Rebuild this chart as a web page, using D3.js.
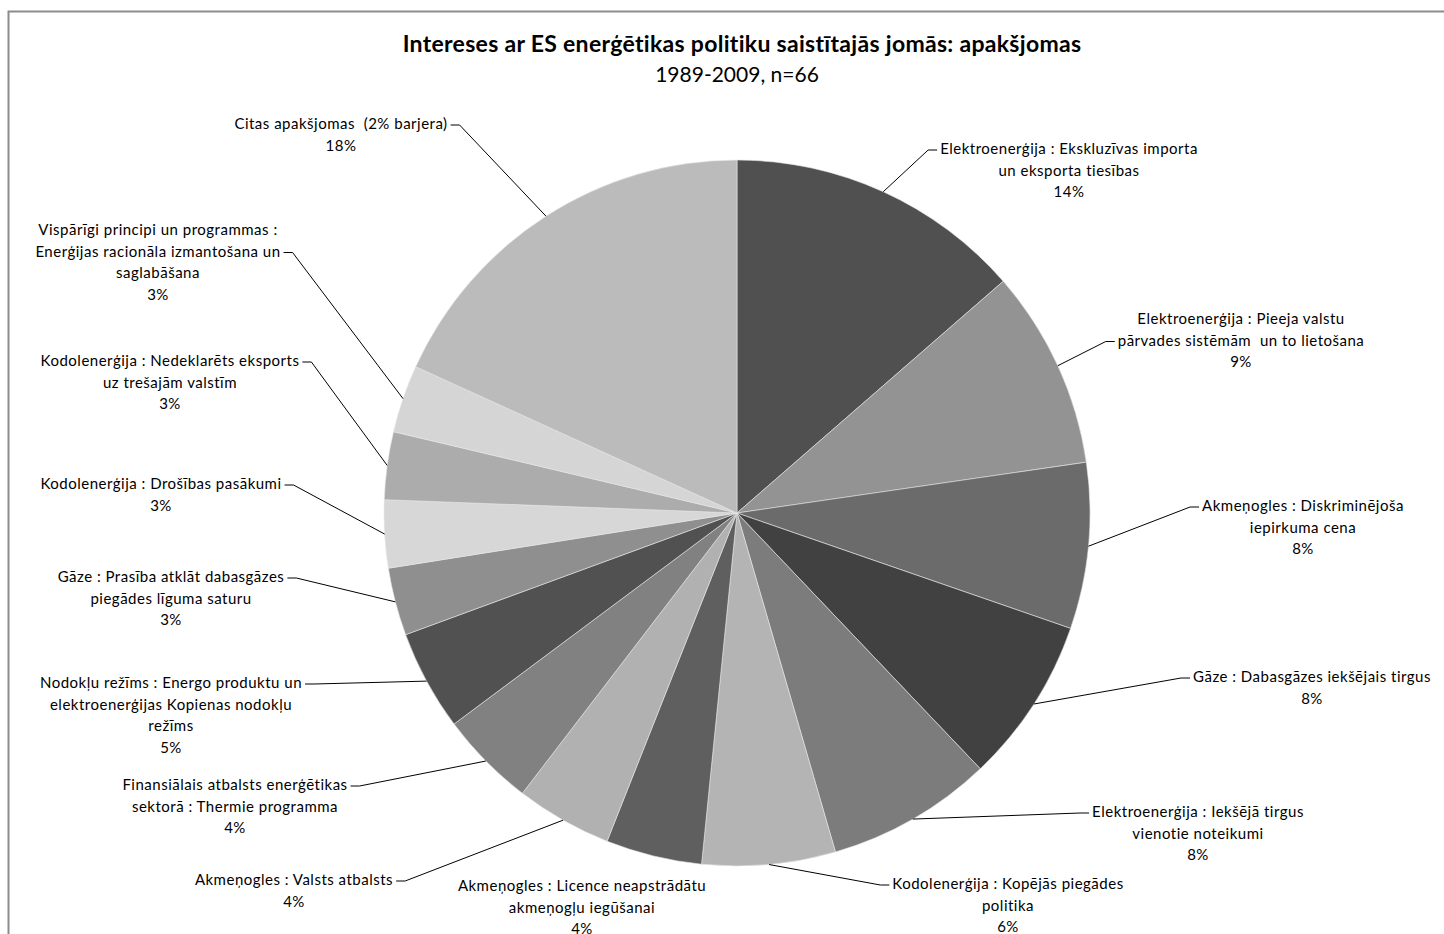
<!DOCTYPE html>
<html>
<head>
<meta charset="utf-8">
<script src="https://cdn.jsdelivr.net/npm/d3@7/dist/d3.min.js"></script>
<style>
  body { margin: 0; background: #fff; }
  svg text { font-family: Lato, "Open Sans", sans-serif; fill: #000; }
</style>
</head>
<body>
<div id="chart"></div>
<script>
// --- data (clockwise from 12 o'clock) ---
const categories = [
    "Elektroenerģija : Ekskluzīvas importa\nun eksporta tiesības",
    "Elektroenerģija : Pieeja valstu\npārvades sistēmām  un to lietošana",
    "Akmeņogles : Diskriminējoša\niepirkuma cena",
    "Gāze : Dabasgāzes iekšējais tirgus",
    "Elektroenerģija : Iekšējā tirgus\nvienotie noteikumi",
    "Kodolenerģija : Kopējās piegādes\npolitika",
    "Akmeņogles : Licence neapstrādātu\nakmeņogļu iegūšanai",
    "Akmeņogles : Valsts atbalsts",
    "Finansiālais atbalsts enerģētikas\nsektorā : Thermie programma",
    "Nodokļu režīms : Energo produktu un\nelektroenerģijas Kopienas nodokļu\nrežīms",
    "Gāze : Prasība atklāt dabasgāzes\npiegādes līguma saturu",
    "Kodolenerģija : Drošības pasākumi",
    "Kodolenerģija : Nedeklarēts eksports\nuz trešajām valstīm",
    "Vispārīgi principi un programmas :\nEnerģijas racionāla izmantošana un\nsaglabāšana",
    "Citas apakšjomas  (2% barjera)"
];
const values = [13.6, 9.1, 7.6, 7.6, 7.6, 6.1, 4.4, 4.4, 4.4, 4.6, 3.1, 3.1, 3.1, 3.1, 18.2];
const colors = ["#505050", "#939393", "#6b6b6b", "#414141", "#7c7c7c", "#b4b4b4", "#5f5f5f",
                "#b1b1b1", "#818181", "#515151", "#8f8f8f", "#d7d7d7", "#acacac", "#d5d5d5", "#bbbbbb"];
const title = "Intereses ar ES enerģētikas politiku saistītajās jomās: apakšjomas";
const subtitle = "1989-2009, n=66";

// label layout: [text centre x, first line y, line the leader attaches to, draw leader]
const labelLayout = [
    [1069, 149, 0, true],
    [1241, 319, 1, true],
    [1303, 506, 0, true],
    [1312, 677, 0, true],
    [1198, 812, 0, true],
    [1008, 884, 0, true],
    [582, 886, 0, false],
    [294, 880, 0, true],
    [235, 785, 0, true],
    [171, 683, 0, true],
    [171, 577, 0, true],
    [161, 484, 0, true],
    [170, 361, 0, true],
    [158, 230, 1, true],
    [341, 124, 0, true]
];

const width = 1444, height = 934;
const cx = 737, cy = 513, radius = 353;
const lineH = 21.5;

const svg = d3.select("#chart").append("svg")
    .attr("width", width)
    .attr("height", height);

// chart area border (only top and left visible in the crop)
svg.append("rect")
    .attr("x", 8.5).attr("y", 11.5)
    .attr("width", width + 20).attr("height", height + 20)
    .attr("fill", "none")
    .attr("stroke", "#8c8c8c")
    .attr("stroke-width", 2);

svg.append("text")
    .attr("x", 742).attr("y", 44).attr("dy", "0.35em")
    .attr("text-anchor", "middle")
    .attr("font-size", "23px").attr("font-weight", "bold")
    .attr("letter-spacing", "0.3px")
    .text(title);
svg.append("text")
    .attr("x", 737).attr("y", 75).attr("dy", "0.35em")
    .attr("text-anchor", "middle")
    .attr("font-size", "21px")
    .text(subtitle);

const pie = d3.pie().sort(null).value(d => d);
const arcs = pie(values);
const total = d3.sum(values);
const pct = d3.format(".0%");
const arc = d3.arc().innerRadius(0).outerRadius(radius);

const g = svg.append("g").attr("transform", `translate(${cx},${cy})`);
g.selectAll("path.slice").data(arcs).enter().append("path")
    .attr("class", "slice")
    .attr("d", arc)
    .attr("fill", (d, i) => colors[i])
    .attr("stroke", "#e6e6e6")
    .attr("stroke-width", 0.6);

// labels + leader lines
arcs.forEach((d, i) => {
    const [lx, ly, attach, leader] = labelLayout[i];
    const lines = categories[i].split("\n").concat(pct(d.value / total));
    const t = svg.append("text").attr("text-anchor", "middle").attr("font-size", "15px")
        .attr("letter-spacing", "0.5px")
        .attr("xml:space", "preserve");
    lines.forEach((s, k) => {
        t.append("tspan").attr("x", lx).attr("y", ly + k * lineH).attr("dy", "0.35em").text(s);
    });
    if (!leader) return;

    const a = (d.startAngle + d.endAngle) / 2;
    const px = cx + radius * Math.sin(a), py = cy - radius * Math.cos(a);
    const w = t.selectAll("tspan").nodes()[attach].getComputedTextLength();
    const right = px > cx;
    const ey = ly + attach * lineH + 1;
    const ex = right ? lx - w / 2 - 3 : lx + w / 2 + 3;
    const elbow = right ? ex - 9 : ex + 9;
    svg.append("path")
        .attr("d", d3.line()([[px, py], [elbow, ey], [ex, ey]]))
        .attr("fill", "none")
        .attr("stroke", "#000")
        .attr("stroke-width", 1);
});
</script>
</body>
</html>
